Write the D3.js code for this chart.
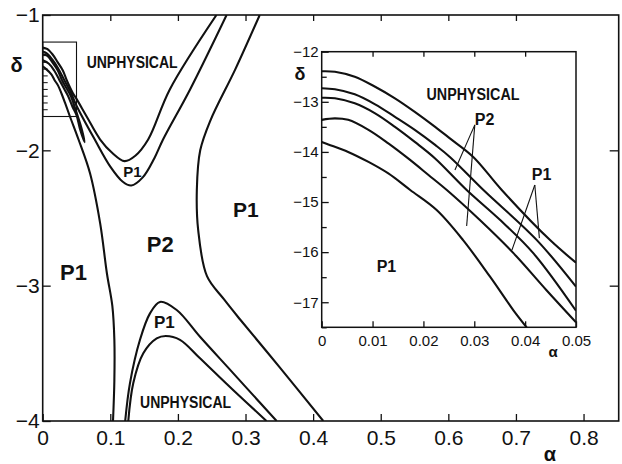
<!DOCTYPE html>
<html>
<head>
<meta charset="utf-8">
<script src="https://cdn.jsdelivr.net/npm/d3@7"></script>
<style>
  body { margin: 0; background: #fff; }
  svg { display: block; }
  .tick text { font-family: "Liberation Sans Narrow", "Arial Narrow", sans-serif; fill: #111; }
  .tick line { stroke: #111; stroke-width: 1.3; }
  .curve { fill: none; stroke: #111; stroke-width: 2.1; stroke-linejoin: round; }
  .note { font-family: "Liberation Sans", Arial, sans-serif; font-weight: bold; fill: #111; }
</style>
</head>
<body>
<div id="chart"></div>
<script>
// main plot curves, [alpha, delta]
const mainU1 = [[0,-1.24],[0.0065,-1.25],[0.0144,-1.29],[0.0223,-1.35],[0.0298,-1.41],[0.0354,-1.48],[0.0449,-1.58],[0.05,-1.62],[0.065,-1.75],[0.085,-1.92],[0.103,-2.02],[0.121,-2.08],[0.137,-2.04],[0.156,-1.92],[0.188,-1.55],[0.257,-1]]
const mainU2 = [[0,-1.27],[0.0065,-1.285],[0.0144,-1.33],[0.0223,-1.39],[0.0318,-1.48],[0.0423,-1.58],[0.05,-1.67],[0.077,-1.92],[0.1,-2.12],[0.118,-2.23],[0.131,-2.26],[0.148,-2.2],[0.165,-2.06],[0.178,-1.92],[0.218,-1.55],[0.272,-1]]
const mainLoop = [[0,-1.29],[0.0065,-1.30],[0.0144,-1.35],[0.0223,-1.41],[0.0285,-1.48],[0.0351,-1.54],[0.0416,-1.60],[0.05,-1.72],[0.057,-1.83],[0.062,-1.94],[0.055,-1.84],[0.05,-1.74],[0.0442,-1.68],[0.0377,-1.60],[0.0311,-1.54],[0.0246,-1.48],[0.017,-1.41],[0.0092,-1.36],[0,-1.335]]
const mainL = [[0,-1.38],[0.0052,-1.40],[0.0131,-1.44],[0.0174,-1.48],[0.0226,-1.52],[0.0278,-1.58],[0.0331,-1.65],[0.0403,-1.75],[0.053,-1.92],[0.070,-2.17],[0.085,-2.54],[0.095,-2.91],[0.103,-3.15],[0.106,-3.4],[0.106,-3.7],[0.104,-4]]
const mainR = [[0.321,-1],[0.285,-1.4],[0.248,-1.78],[0.233,-2.0],[0.228,-2.29],[0.23,-2.59],[0.243,-2.93],[0.268,-3.1],[0.292,-3.25],[0.35,-3.6],[0.415,-4]]
const mainH1 = [[0.122,-4],[0.1291,-3.72],[0.1439,-3.40],[0.1587,-3.205],[0.1735,-3.12],[0.1982,-3.18],[0.2327,-3.378],[0.282,-3.648],[0.346,-4]]
const mainH2 = [[0.1266,-4],[0.134,-3.72],[0.1488,-3.50],[0.1686,-3.39],[0.182,-3.372],[0.2031,-3.40],[0.2327,-3.537],[0.282,-3.772],[0.331,-4]]

// inset curves, delta in units of 0.1
const inC1 = [[0,-12.39],[0.0026,-12.40],[0.0065,-12.50],[0.0105,-12.70],[0.0144,-12.93],[0.0183,-13.20],[0.0223,-13.50],[0.0252,-13.73],[0.0298,-14.10],[0.0354,-14.76],[0.0449,-15.76],[0.05,-16.21]]
const inC2 = [[0,-12.73],[0.0026,-12.75],[0.0065,-12.85],[0.0105,-13.05],[0.0144,-13.30],[0.0183,-13.56],[0.0223,-13.86],[0.0252,-14.10],[0.0318,-14.76],[0.0423,-15.76],[0.05,-16.69]]
const inC3 = [[0,-12.92],[0.0026,-12.93],[0.0065,-13.03],[0.0105,-13.23],[0.0144,-13.50],[0.0183,-13.80],[0.0223,-14.13],[0.0285,-14.76],[0.0351,-15.36],[0.0416,-16.02],[0.05,-17.17]]
const inC4 = [[0,-13.36],[0.0026,-13.33],[0.0052,-13.36],[0.0092,-13.56],[0.0131,-13.83],[0.0170,-14.13],[0.0210,-14.46],[0.0246,-14.76],[0.0311,-15.36],[0.0377,-16.02],[0.0442,-16.76],[0.05,-17.40]]
const inC5 = [[0,-13.80],[0.0013,-13.85],[0.0052,-14.00],[0.0092,-14.20],[0.0131,-14.43],[0.0174,-14.76],[0.0226,-15.16],[0.0278,-15.76],[0.0331,-16.49],[0.0377,-17.16],[0.0403,-17.50]]

// ticks
const mainXTicks = [0, 0.1, 0.2, 0.3, 0.4, 0.5, 0.6, 0.7, 0.8]
const mainXLabels = ["0", "0.1", "0.2", "0.3", "0.4", "0.5", "0.6", "0.7", "0.8"]
const mainYTicks = [-1, -2, -3, -4]
const mainYLabels = ["\u22121", "\u22122", "\u22123", "\u22124"]
const zoomBoxTicks = [-1.25, -1.3, -1.35, -1.4, -1.45, -1.5, -1.55, -1.6, -1.65, -1.7]
const inXTicks = [0, 0.01, 0.02, 0.03, 0.04, 0.05]
const inXLabels = ["0", "0.01", "0.02", "0.03", "0.04", "0.05"]
const inYTicks = [-12, -13, -14, -15, -16, -17]
const inYLabels = ["\u221212", "\u221213", "\u221214", "\u221215", "\u221216", "\u221217"]
const inYMinor = [-12.5, -13.5, -14.5, -15.5, -16.5, -17.5]

// region labels [text, alpha, delta, font size]
const mainNotes = [["UNPHYSICAL", 0.065, -1.394, 16], ["P1", 0.119, -2.195, 15], ["P2", 0.154, -2.749, 22],
    ["P1", 0.2815, -2.491, 21], ["P1", 0.0256, -2.959, 22], ["P1", 0.1646, -3.316, 17], ["UNPHYSICAL", 0.144, -3.907, 16]]
const inNotes = [["UNPHYSICAL", 0.0206, -12.964, 16], ["P2", 0.0301, -13.463, 16], ["P1", 0.0413, -14.561, 16], ["P1", 0.0108, -16.391, 16]]
// pointer lines from labels in inset
const inPointers = [[[0.0301, -13.46], [0.0262, -14.36]], [[0.0301, -13.46], [0.0285, -15.48]],
    [[0.0419, -14.66], [0.0374, -15.96]], [[0.0419, -14.66], [0.0428, -15.72]]]

const W = 622, H = 464

const svg = d3.select("#chart").append("svg")
    .attr("width", W).attr("height", H)

// main scales
const x = d3.scaleLinear().domain([0, 0.852]).range([42.7, 618.7])
const y = d3.scaleLinear().domain([-1, -4]).range([15, 421])

svg.append("clipPath").attr("id", "clipMain")
    .append("rect").attr("x", x(0)).attr("y", y(-1))
    .attr("width", x(0.852) - x(0)).attr("height", y(-4) - y(-1))

const line = d3.line().x(d => x(d[0])).y(d => y(d[1])).curve(d3.curveCatmullRom.alpha(0.5))

const gMain = svg.append("g").attr("clip-path", "url(#clipMain)")
gMain.selectAll("path.curve")
    .data([mainU1, mainU2, mainLoop, mainL, mainR, mainH1, mainH2])
    .enter().append("path")
    .attr("class", "curve")
    .attr("d", line)

// small box showing inset area
svg.append("rect")
    .attr("x", x(0)).attr("y", y(-1.2))
    .attr("width", x(0.05) - x(0)).attr("height", y(-1.75) - y(-1.2))
    .attr("fill", "none").attr("stroke", "#111").attr("stroke-width", 1.1)
svg.append("g").selectAll("line").data(zoomBoxTicks).enter().append("line")
    .attr("x1", x(0)).attr("x2", x(0) + 5)
    .attr("y1", d => y(d)).attr("y2", d => y(d))
    .attr("stroke", "#111").attr("stroke-width", 1)

// main axes
svg.append("g").attr("transform", `translate(0,${y(-4)})`)
    .call(d3.axisBottom(x).tickValues(mainXTicks).tickSize(-7).tickPadding(9)
        .tickFormat((d, i) => mainXLabels[i]))
    .call(g => g.select(".domain").remove())
    .selectAll("text").style("font-size", "21px")
svg.append("g").attr("transform", `translate(${x(0)},0)`)
    .call(d3.axisLeft(y).tickValues(mainYTicks).tickSize(-8).tickPadding(3)
        .tickFormat((d, i) => mainYLabels[i]))
    .call(g => g.select(".domain").remove())
    .selectAll("text").style("font-size", "21px")
svg.append("g").attr("transform", `translate(0,${y(-1)})`)
    .call(d3.axisTop(x).tickValues(mainXTicks.slice(1, 8)).tickSize(-6).tickFormat(""))
    .call(g => g.select(".domain").remove())
svg.append("g").attr("transform", `translate(${x(0.852)},0)`)
    .call(d3.axisRight(y).tickValues([-2, -3]).tickSize(-9).tickFormat(""))
    .call(g => g.select(".domain").remove())

svg.append("rect")
    .attr("x", x(0)).attr("y", y(-1))
    .attr("width", x(0.852) - x(0)).attr("height", y(-4) - y(-1))
    .attr("fill", "none").attr("stroke", "#111").attr("stroke-width", 1.6)

svg.selectAll("text.mainNote").data(mainNotes).enter().append("text")
    .attr("class", "note mainNote")
    .attr("x", d => x(d[1])).attr("y", d => y(d[2]))
    .style("font-size", d => d[3] + "px")
    .text(d => d[0])
    .each(function (d) {
        if (d[0] === "UNPHYSICAL") d3.select(this).attr("textLength", 91).attr("lengthAdjust", "spacingAndGlyphs")
    })

svg.append("text").attr("class", "note").attr("x", 16.5).attr("y", 72)
    .attr("text-anchor", "middle").style("font-size", "20px").text("δ")
svg.append("text").attr("class", "note").attr("x", 550).attr("y", 461)
    .attr("text-anchor", "middle").style("font-size", "20px").text("α")

// inset
const xi = d3.scaleLinear().domain([0, 0.05]).range([321.7, 576])
const yi = d3.scaleLinear().domain([-12, -17.5]).range([51.7, 327.3])

svg.append("rect")
    .attr("x", xi(0)).attr("y", yi(-12))
    .attr("width", xi(0.05) - xi(0)).attr("height", yi(-17.5) - yi(-12))
    .attr("fill", "#fff").attr("stroke", "none")

svg.append("clipPath").attr("id", "clipIn")
    .append("rect").attr("x", xi(0)).attr("y", yi(-12))
    .attr("width", xi(0.05) - xi(0)).attr("height", yi(-17.5) - yi(-12))

const lineIn = d3.line().x(d => xi(d[0])).y(d => yi(d[1])).curve(d3.curveCatmullRom.alpha(0.5))

svg.append("g").attr("clip-path", "url(#clipIn)")
    .selectAll("path").data([inC1, inC2, inC3, inC4, inC5]).enter().append("path")
    .attr("class", "curve").attr("d", lineIn)

svg.append("g").attr("transform", `translate(0,${yi(-17.5)})`)
    .call(d3.axisBottom(xi).tickValues(inXTicks).tickSize(-6).tickPadding(8)
        .tickFormat((d, i) => inXLabels[i]))
    .call(g => g.select(".domain").remove())
    .selectAll("text").style("font-size", "15px")
svg.append("g").attr("transform", `translate(${xi(0)},0)`)
    .call(d3.axisLeft(yi).tickValues(inYTicks).tickSize(-7).tickPadding(3)
        .tickFormat((d, i) => inYLabels[i]))
    .call(g => g.select(".domain").remove())
    .selectAll("text").style("font-size", "15px")
svg.append("g").attr("transform", `translate(${xi(0)},0)`)
    .call(d3.axisLeft(yi).tickValues(inYMinor).tickSize(-5).tickFormat(""))
    .call(g => g.select(".domain").remove())
svg.append("g").attr("transform", `translate(0,${yi(-12)})`)
    .call(d3.axisTop(xi).tickValues(inXTicks.slice(1, 5)).tickSize(-5).tickFormat(""))
    .call(g => g.select(".domain").remove())

svg.append("rect")
    .attr("x", xi(0)).attr("y", yi(-12))
    .attr("width", xi(0.05) - xi(0)).attr("height", yi(-17.5) - yi(-12))
    .attr("fill", "none").attr("stroke", "#111").attr("stroke-width", 1.5)

svg.selectAll("line.pointer").data(inPointers).enter().append("line")
    .attr("class", "pointer")
    .attr("x1", d => xi(d[0][0])).attr("y1", d => yi(d[0][1]))
    .attr("x2", d => xi(d[1][0])).attr("y2", d => yi(d[1][1]))
    .attr("stroke", "#111").attr("stroke-width", 1.1)

svg.selectAll("text.inNote").data(inNotes).enter().append("text")
    .attr("class", "note inNote")
    .attr("x", d => xi(d[1])).attr("y", d => yi(d[2]))
    .style("font-size", d => d[3] + "px")
    .text(d => d[0])
    .each(function (d) {
        if (d[0] === "UNPHYSICAL") d3.select(this).attr("textLength", 93).attr("lengthAdjust", "spacingAndGlyphs")
    })

svg.append("text").attr("class", "note").attr("x", 300).attr("y", 80)
    .attr("text-anchor", "middle").style("font-size", "18px").text("δ")
svg.append("text").attr("class", "note").attr("x", 553).attr("y", 357)
    .attr("text-anchor", "middle").style("font-size", "15px").text("α")
</script>
</body>
</html>
